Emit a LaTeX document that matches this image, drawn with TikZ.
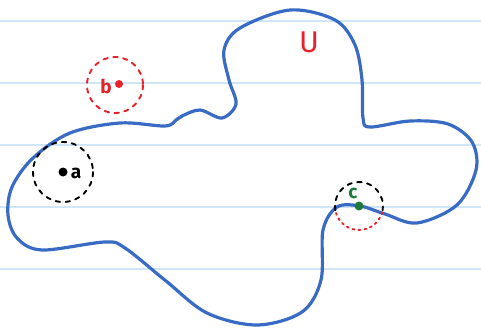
\documentclass[tikz,border=0pt]{standalone}
\usepackage{fontspec}
\setmainfont{Fira Sans}
\usetikzlibrary{positioning}
\definecolor{ublue}{HTML}{3A6BC4}
\definecolor{ured}{HTML}{E8202A}
\definecolor{ugreen}{HTML}{1E7B3C}
\definecolor{rule}{HTML}{CFE6F8}
\tikzset{
  ruling/.style={draw=rule,line width=1.6pt},
  blob/.style={draw=ublue,line width=3.2pt,line join=round},
  hood/.style={dashed,dash pattern=on 4.5pt off 5.5pt,line width=1.9pt,line cap=round},
  pt/.style={circle,fill,inner sep=0pt,minimum size=9pt},
  lbl/.style={font=\fontsize{19}{19}\selectfont\bfseries,inner sep=0pt},
}
\begin{document}
\begin{tikzpicture}[x=1pt,y=-1pt]
  \useasboundingbox (0,0) rectangle (481,329);
  % ruled paper
  \foreach \y in {21,83,145,207,269} { \draw[ruling] (0,\y) -- (481,\y); }
  % the set U
  \draw[blob] plot[smooth cycle,tension=0.55] coordinates {
    (182,116) (200,110) (222,118) (236,104) (229,80) (224,50) (240,28) (290,10)
    (335,20) (355,45) (362,80) (363,118) (370,127) (410,121) (448,124) (472,142)
    (476,170) (457,205) (417,223) (385,214) (360,206) (337,207) (323,230) (321,280)
    (302,312) (257,325) (207,313) (166,281) (125,248) (105,242) (42,250) (17,238)
    (8,215) (12,187) (33,158) (70,133) (120,123) (165,126) (176,120)};
  \node[lbl,text=ured,font=\fontsize{30}{30}\selectfont] (U) at (309,42) {U};
  % point a
  \node[pt,black] (a) at (63,172) {};
  \node[lbl,right=3pt of a,yshift=-1pt] (la) {a};
  \draw[hood,black] (a) circle (30);
  % point b
  \node[pt,ured,minimum size=8pt] (b) at (119,84) {};
  \node[lbl,text=ured] (lb) at (106,86) {b};
  \draw[hood,ured] (115,85) circle (28);
  % point c
  \node[pt,ugreen] (c) at (359,206) {};
  \node[lbl,text=ugreen] (lc) at (353,193) {c};
  \draw[hood,black] (c) ++(170:24) arc (170:370:24);
  \draw[hood,ured,dash pattern=on 2pt off 4pt] (c) ++(15:24) arc (15:165:24);
\end{tikzpicture}
\end{document}
